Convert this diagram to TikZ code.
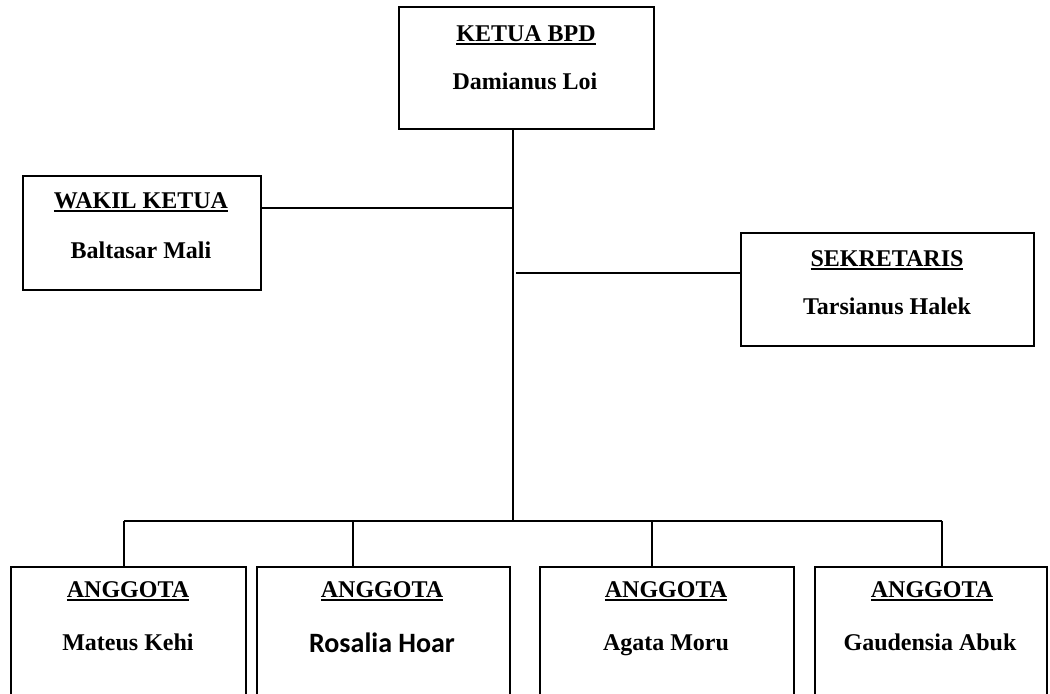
\documentclass[tikz,border=0pt]{standalone}
\usepackage{fontspec}
\setmainfont{Liberation Serif}
\newfontfamily\calfont{Carlito}
\newcommand\hdul[1]{\setbox0\hbox{#1}\rlap{\rule[-1.5pt]{\wd0}{0.8pt}}\box0}
\tikzset{
  box/.style 2 args={draw, line width=1pt, anchor=north west, inner sep=0pt,
    minimum width=#1*0.5pt, minimum height=#2*0.5pt},
  ln/.style={line width=1pt},
  lbl/.style={anchor=base, inner sep=0pt, font=\fontsize{12}{14}\selectfont\bfseries}
}
\begin{document}
\begin{tikzpicture}[x=0.5pt, y=-0.5pt]
\clip (0,0) rectangle (1050,694);
\fill[white] (0,0) rectangle (1050,694);
% boxes
\node[box={255}{122}] (k) at (398,6) {};
\node[box={238}{114}] (w) at (22,175) {};
\node[box={293}{113}] (s) at (740,232) {};
\node[box={235}{150}] (a1) at (10,566) {};
\node[box={253}{150}] (a2) at (256,566) {};
\node[box={254}{150}] (a3) at (539,566) {};
\node[box={232}{150}] (a4) at (814,566) {};
% texts
\node[lbl] (kh) at (526,42) {\hdul{KETUA BPD}};
\node[lbl] (kn) at (525,90) {Damianus Loi};
\node[lbl] (wh) at (141,209) {\hdul{WAKIL KETUA}};
\node[lbl] (wn) at (141,259) {Baltasar Mali};
\node[lbl] (sh) at (887,267) {\hdul{SEKRETARIS}};
\node[lbl] (sn) at (887,315) {Tarsianus Halek};
\node[lbl] (a1h) at (128,598) {\hdul{ANGGOTA}};
\node[lbl] (a1n) at (128,651) {Mateus Kehi};
\node[lbl] (a2h) at (382,598) {\hdul{ANGGOTA}};
\node[lbl, font=\calfont\fontsize{14}{16}\selectfont\bfseries] (a2n) at (382,653) {Rosalia Hoar};
\node[lbl] (a3h) at (666,598) {\hdul{ANGGOTA}};
\node[lbl] (a3n) at (666,651) {Agata Moru};
\node[lbl] (a4h) at (932,598) {\hdul{ANGGOTA}};
\node[lbl] (a4n) at (930,651) {Gaudensia Abuk};
% connector points
\coordinate (bus) at (513,521);
\coordinate (jw) at (513,208);
\coordinate (js) at (516,273);
\coordinate (d1) at (124,521);
\coordinate (d2) at (353,521);
\coordinate (d3) at (652,521);
\coordinate (d4) at (942,521);
% connectors
\draw[ln] (k.south -| bus) -- (bus);
\draw[ln] (jw -| w.east) -- (jw);
\draw[ln] (js) -- (js -| s.west);
\draw[ln] (d1) -- (d4);
\draw[ln] (d1) -- (d1 |- a1.north);
\draw[ln] (d2) -- (d2 |- a2.north);
\draw[ln] (d3) -- (d3 |- a3.north);
\draw[ln] (d4) -- (d4 |- a4.north);
\end{tikzpicture}
\end{document}
